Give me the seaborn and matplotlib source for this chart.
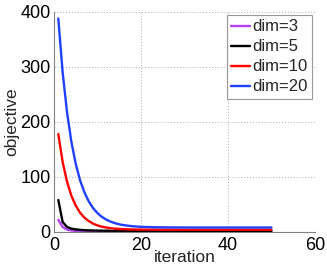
import numpy as np
import pandas as pd
import matplotlib
matplotlib.use("Agg")
import matplotlib.pyplot as plt
import seaborn as sns

iterations = list(range(1, 51))
labels = ["dim=3", "dim=5", "dim=10", "dim=20"]
colors = ["#B040F0", "#000000", "#FF0000", "#2040FF"]

dim3 = [22, 9, 4.2, 2.6, 1.9, 1.5, 1.3, 1.2, 1.1, 1.05, 1.0, 1.0, 1.0, 1.0, 1.0,
        1.0, 1.0, 1.0, 1.0, 1.0, 1.0, 1.0, 1.0, 1.0, 1.0, 1.0, 1.0, 1.0, 1.0, 1.0,
        1.0, 1.0, 1.0, 1.0, 1.0, 1.0, 1.0, 1.0, 1.0, 1.0, 1.0, 1.0, 1.0, 1.0, 1.0,
        1.0, 1.0, 1.0, 1.0, 1.0]
dim5 = [58, 18, 9, 6, 4.6, 3.8, 3.2, 2.8, 2.6, 2.4, 2.3, 2.2, 2.1, 2.0, 2.0,
        1.9, 1.9, 1.9, 1.9, 1.8, 1.8, 1.8, 1.8, 1.8, 1.8, 1.8, 1.8, 1.8, 1.8, 1.8,
        1.8, 1.8, 1.8, 1.8, 1.8, 1.8, 1.8, 1.8, 1.8, 1.8, 1.8, 1.8, 1.8, 1.8, 1.8,
        1.8, 1.8, 1.8, 1.8, 1.8]
dim10 = [178, 127, 91.5, 66, 48, 35, 26, 19.7, 15.1, 11.8, 9.6, 8.0, 6.8, 6.0, 5.4,
         5.0, 4.7, 4.5, 4.4, 4.3, 4.2, 4.1, 4.1, 4.0, 4.0, 4.0, 4.0, 4.0, 4.0, 4.0,
         4.0, 4.0, 4.0, 4.0, 4.0, 4.0, 4.0, 4.0, 4.0, 4.0, 4.0, 4.0, 4.0, 4.0, 4.0,
         4.0, 4.0, 4.0, 4.0, 4.0]
dim20 = [388, 290, 218, 164, 124, 94, 72, 55.5, 43.3, 34.2, 27.5, 22.5, 18.8, 16.0, 13.9,
         12.4, 11.3, 10.4, 9.8, 9.3, 9.0, 8.7, 8.5, 8.4, 8.3, 8.2, 8.2, 8.1, 8.1, 8.1,
         8.0, 8.0, 8.0, 8.0, 8.0, 8.0, 8.0, 8.0, 8.0, 8.0, 8.0, 8.0, 8.0, 8.0, 8.0,
         8.0, 8.0, 8.0, 8.0, 8.0]

series = [dim3, dim5, dim10, dim20]
df = pd.concat([pd.DataFrame({"iteration": iterations, "objective": s, "dim": lab})
                for s, lab in zip(series, labels)], ignore_index=True)

sns.set_theme(style="white")
plt.rcParams['font.family'] = ['Liberation Sans', 'DejaVu Sans']

fig = plt.figure(figsize=(3.27, 2.70), dpi=100)
ax = fig.add_axes([0.165, 0.141, 0.798, 0.815])
sns.lineplot(data=df, x="iteration", y="objective", hue="dim", hue_order=labels,
             palette=colors, linewidth=1.7, ax=ax)

ax.set_xlim(0, 60)
ax.set_ylim(0, 400)
ax.set_xticks([0, 20, 40, 60])
ax.set_yticks([0, 100, 200, 300, 400])
ax.tick_params(axis='x', labelsize=13, length=0, pad=4, colors='black')
ax.tick_params(axis='y', labelsize=13, length=0, pad=2.5, colors='black')
ax.set_xlabel("iteration", fontsize=12.5, labelpad=-3)
ax.set_ylabel("objective", fontsize=12.5, labelpad=0.5)
ax.grid(True, linestyle=(0, (1, 2)), color='#b0b0b0', linewidth=0.7)
for sp in ['top', 'right']:
    ax.spines[sp].set_visible(False)
for sp in ['left', 'bottom']:
    ax.spines[sp].set_color('#808080')
    ax.spines[sp].set_linewidth(0.8)

leg = ax.legend(loc='upper right', fontsize=12, frameon=True, fancybox=False,
                edgecolor='#808080', handlelength=1.1, handletextpad=0.15,
                labelspacing=0.3, borderpad=0.25, borderaxespad=0.2)
leg.get_frame().set_linewidth(0.8)

fig.savefig("out.png", dpi=100)
